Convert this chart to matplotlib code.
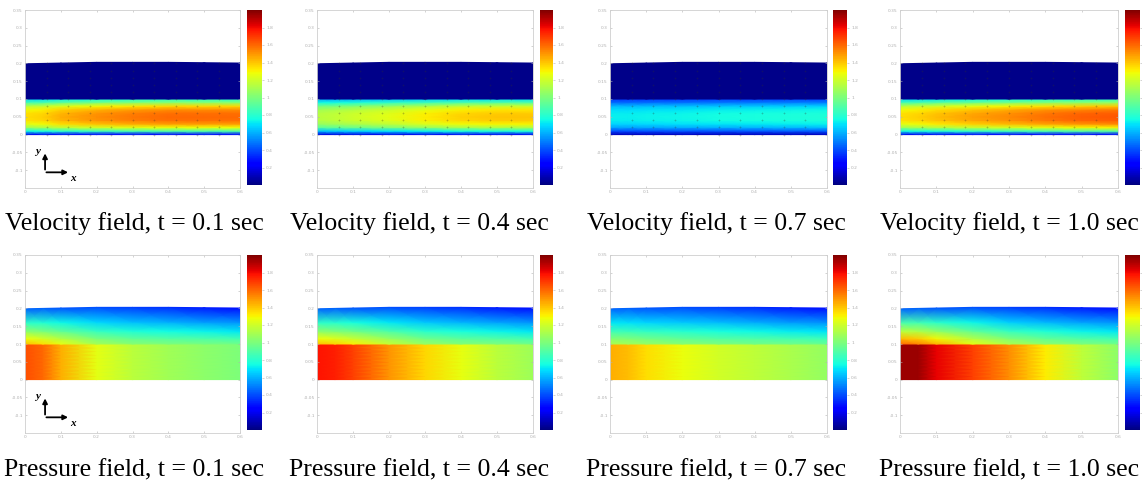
import numpy as np
import matplotlib.pyplot as plt

# snapshot times shown in the four columns
times = ["0.1", "0.4", "0.7", "1.0"]

x_st = [0.0, 0.05, 0.1, 0.2, 0.3, 0.4, 0.5, 0.6]
# free surface height at those stations
surface = [0.199, 0.200, 0.201, 0.203, 0.203, 0.203, 0.202, 0.201]

# velocity: normalised profile across the lower layer (y from 0 to 0.1)
y_low = [0.0, 0.01, 0.02, 0.03, 0.04, 0.05, 0.06, 0.07, 0.08, 0.09, 0.1]
vel_shape = [0.15, 0.55, 0.8, 0.93, 0.99, 1.0, 0.99, 0.95, 0.85, 0.65, 0.5]
# centre-line speed along x for each time
vel_t01 = [1.35, 1.38, 1.45, 1.52, 1.57, 1.60, 1.60, 1.60]
vel_t04 = [1.15, 1.17, 1.20, 1.25, 1.32, 1.38, 1.40, 1.40]
vel_t07 = [0.72, 0.72, 0.73, 0.74, 0.75, 0.76, 0.77, 0.78]
vel_t10 = [1.35, 1.38, 1.42, 1.48, 1.53, 1.58, 1.62, 1.64]
vel_upper = 0.02

# pressure in the lower layer along x
pres_low_t01 = [1.65, 1.60, 1.45, 1.25, 1.15, 1.09, 1.04, 1.00]
pres_low_t04 = [1.78, 1.75, 1.68, 1.50, 1.36, 1.26, 1.15, 1.08]
pres_low_t07 = [1.45, 1.42, 1.35, 1.27, 1.21, 1.16, 1.11, 1.06]
pres_low_t10 = [1.95, 1.95, 1.82, 1.68, 1.52, 1.32, 1.16, 1.04]
# pressure just above the interface (y = 0.1) along x
pres_if_t01 = [1.42, 1.35, 1.26, 1.10, 1.03, 1.00, 0.99, 0.97]
pres_if_t04 = [1.42, 1.38, 1.32, 1.18, 1.07, 1.02, 1.00, 0.97]
pres_if_t07 = [1.12, 1.10, 1.07, 1.03, 1.00, 0.98, 0.97, 0.95]
pres_if_t10 = [1.60, 1.55, 1.45, 1.26, 1.12, 1.04, 1.00, 0.97]
# pressure at the free surface along x
pres_top = [0.45, 0.44, 0.42, 0.40, 0.37, 0.34, 0.30, 0.28]
# vertical blend in the upper layer (0 = interface, 1 = surface)
s_up = [0.0, 0.15, 0.35, 0.6, 1.0]
blend_up = [1.0, 0.85, 0.62, 0.38, 0.0]

vel_all = [vel_t01, vel_t04, vel_t07, vel_t10]
pres_low_all = [pres_low_t01, pres_low_t04, pres_low_t07, pres_low_t10]
pres_if_all = [pres_if_t01, pres_if_t04, pres_if_t07, pres_if_t10]

xticks = [0, 0.1, 0.2, 0.3, 0.4, 0.5, 0.6]
xtick_labels = ["0", "0.1", "0.2", "0.3", "0.4", "0.5", "0.6"]
yticks = [-0.1, -0.05, 0, 0.05, 0.1, 0.15, 0.2, 0.25, 0.3, 0.35]
ytick_labels = ["-0.1", "-0.05", "0", "0.05", "0.1", "0.15", "0.2", "0.25", "0.3", "0.35"]
cbar_ticks = [0.2, 0.4, 0.6, 0.8, 1.0, 1.2, 1.4, 1.6, 1.8]
cbar_labels = ["0.2", "0.4", "0.6", "0.8", "1", "1.2", "1.4", "1.6", "1.8"]

W, H = 1142, 484
fig = plt.figure(figsize=(W / 100, H / 100), dpi=100)

# pixel layout of each column: axes left/right, colorbar left/right, caption centre
cols_px = [(25, 240, 247, 262, 134), (317, 533, 540, 553, 419),
           (610, 827, 833, 847, 716), (900, 1118, 1125, 1140, 1009)]
rows_px = [(10, 188, 185, 230), (255, 433, 430, 476)]

cmap = plt.get_cmap("jet")
norm = plt.Normalize(0, 2.0)
gray = "#b0b0b0"


def px_rect(l, t, r, b):
    return [l / W, 1 - b / H, (r - l) / W, (b - t) / H]


def style_axes(ax):
    ax.set_xlim(0, 0.6)
    ax.set_ylim(-0.15, 0.35)
    ax.set_xticks(xticks)
    ax.set_xticklabels(xtick_labels)
    ax.set_yticks(yticks)
    ax.set_yticklabels(ytick_labels)
    ax.tick_params(labelsize=3.2, colors=gray, length=1.5, width=0.4, direction="in",
                   top=True, right=True, pad=1.5)
    for sp in ax.spines.values():
        sp.set_color("#cfcfcf")
        sp.set_linewidth(0.6)


def axis_glyph(ax):
    # small y/x orientation arrows in the left panels
    kw = dict(arrowstyle="-|>", lw=1.3, color="black", mutation_scale=7)
    ax.annotate("", xy=(0.056, -0.045), xytext=(0.056, -0.106), arrowprops=kw)
    ax.annotate("", xy=(0.128, -0.106), xytext=(0.052, -0.106), arrowprops=kw)
    ax.text(0.036, -0.048, "y", fontsize=8, style="italic", weight="bold",
            family="Liberation Serif", ha="center", va="center")
    ax.text(0.134, -0.122, "x", fontsize=8, style="italic", weight="bold",
            family="Liberation Serif", ha="center", va="center")


xs = np.array(x_st)
surf = np.array(surface)
yl = np.array(y_low)
su = np.array(s_up)

for row in range(2):
    top, bot, cbot, cap_y = rows_px[row]
    for col in range(4):
        l, r, cl, cr, cx = cols_px[col]
        ax = fig.add_axes(px_rect(l, top, r, bot))
        X_low, Y_low = np.meshgrid(xs, yl)
        X_up = np.tile(xs, (len(su), 1))
        Y_up = 0.1 + su[:, None] * (surf[None, :] - 0.1)

        if row == 0:
            Z_low = np.outer(vel_shape, vel_all[col])
            Z_up = np.full(X_up.shape, vel_upper)
        else:
            Z_low = np.tile(pres_low_all[col], (len(yl), 1))
            p_if = np.array(pres_if_all[col])
            p_top = np.array(pres_top)
            Z_up = p_top[None, :] + np.array(blend_up)[:, None] * (p_if - p_top)[None, :]

        ax.pcolormesh(X_low, Y_low, Z_low, shading="gouraud", cmap=cmap, norm=norm)
        ax.pcolormesh(X_up, Y_up, Z_up, shading="gouraud", cmap=cmap, norm=norm)

        if row == 0:
            # faint velocity-vector markers on a regular grid
            gx, gy = np.meshgrid(np.arange(0.06, 0.58, 0.06), np.arange(0.0, 0.201, 0.02))
            ax.scatter(gx.ravel(), gy.ravel(), marker="+", s=4, lw=0.5,
                       color="#303030", alpha=0.3, zorder=3)

        style_axes(ax)
        if col == 0:
            axis_glyph(ax)

        cax = fig.add_axes(px_rect(cl, top, cr, cbot))
        sm = plt.cm.ScalarMappable(norm=norm, cmap=cmap)
        cb = fig.colorbar(sm, cax=cax, ticks=cbar_ticks)
        cb.ax.set_yticklabels(cbar_labels)
        cb.ax.tick_params(labelsize=3.2, colors=gray, length=1.5, width=0.4, pad=1.5)
        if col == 3:
            # the right-most colorbar sits at the image edge, its labels fall outside
            cb.ax.tick_params(labelright=False)
        cb.outline.set_linewidth(0)

        label = "Velocity field" if row == 0 else "Pressure field"
        fig.text(cx / W, 1 - cap_y / H, f"{label}, t = {times[col]} sec",
                 ha="center", va="baseline", fontsize=18.5, family="Liberation Serif")

fig.savefig("out.png", dpi=100)
